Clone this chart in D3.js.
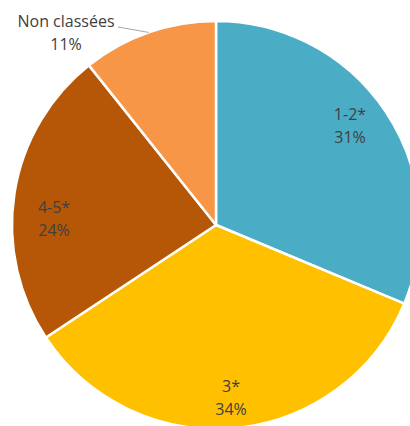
<!DOCTYPE html>
<html>
<head>
<meta charset="utf-8">
<script src="https://cdn.jsdelivr.net/npm/d3@7"></script>
<style>
  html, body { margin: 0; padding: 0; background: #fff; }
  svg { display: block; }
</style>
</head>
<body>
<div id="chart"></div>
<script>
// data
const categories = ["1-2*", "3*", "4-5*", "Non classées"];
const shares = [31.3, 34.4, 23.6, 10.7];
const sliceColors = ["#4BACC6", "#FFC000", "#B65708", "#F79646"];

const width = 410, height = 426;
const cx = 216, cy = 225, radius = 204;

const svg = d3.select("#chart").append("svg")
    .attr("width", width)
    .attr("height", height);

const g = svg.append("g").attr("transform", `translate(${cx},${cy})`);

const total = d3.sum(shares);
const pie = d3.pie().sort(null).value(d => d.value);
const arcs = pie(categories.map((c, i) => ({ name: c, value: shares[i], color: sliceColors[i] })));

const arc = d3.arc().innerRadius(0).outerRadius(radius);

g.selectAll("path.slice")
  .data(arcs)
  .enter().append("path")
    .attr("class", "slice")
    .attr("d", arc)
    .attr("fill", d => d.data.color)
    .attr("stroke", "#fff")
    .attr("stroke-width", 2.5)
    .attr("stroke-linejoin", "round");

// label anchors (first baseline), relative to pie centre, like Excel "best fit"
const labelPos = [[134, -105], [15, 167], [-162, -12], [-150, -198]];

const fontFamily = "'Open Sans', 'Noto Sans', sans-serif";
const textColor = "#404040";

arcs.forEach((d, i) => {
  const [x, y] = labelPos[i];
  if (i === 3) {
    // outside label -> leader line from the slice edge
    const [ex, ey] = d3.arc().innerRadius(radius).outerRadius(radius).centroid(d);
    g.append("line")
      .attr("x1", ex).attr("y1", ey)
      .attr("x2", x + 52).attr("y2", y)
      .attr("stroke", "#a6a6a6")
      .attr("stroke-width", 1);
  }
  const t = g.append("text")
    .attr("text-anchor", "middle")
    .attr("fill", textColor)
    .style("font-family", fontFamily)
    .style("font-size", "16px");
  t.append("tspan").attr("x", x).attr("y", y).text(d.data.name);
  t.append("tspan").attr("x", x).attr("y", y + 23)
    .text(Math.round(d.data.value / total * 100) + "%");
});
</script>
</body>
</html>
